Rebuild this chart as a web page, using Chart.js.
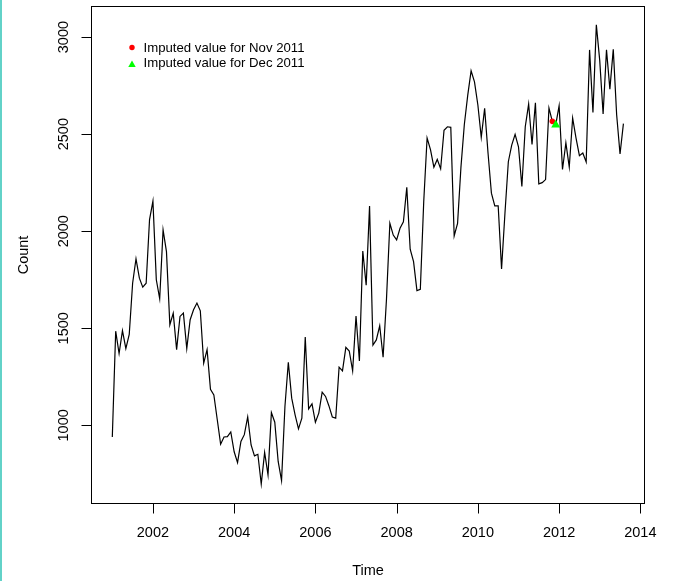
<!DOCTYPE html>
<html>
<head>
<meta charset="utf-8">
<script src="https://cdn.jsdelivr.net/npm/chart.js@4.4.1/dist/chart.umd.min.js"></script>
<style>
  html, body { margin: 0; padding: 0; background: #fff; }
  body { width: 676px; height: 581px; overflow: hidden; position: relative; }
  #edge { position: absolute; left: 0; top: 0; width: 2px; height: 581px; background: #62d2c8; }
  canvas { display: block; }
</style>
</head>
<body>
<div id="edge"></div>
<canvas id="ts-chart" width="676" height="581"></canvas>
<script>
// monthly counts, Jan 2001 .. Aug 2013
const startYear = 2001;
const counts = [
  940, 1485, 1370, 1488, 1395, 1468, 1732, 1858, 1758, 1712, 1732, 2060,
  2155, 1750, 1652, 2007, 1895, 1518, 1578, 1390, 1561, 1578, 1395, 1544,
  1595, 1630, 1590, 1320, 1390, 1186, 1157, 1030, 903, 940, 942, 966,
  864, 808, 917, 952, 1043, 899, 843, 851, 698, 860, 745, 1066,
  1016, 814, 716, 1097, 1325, 1140, 1054, 982, 1037, 1455, 1085, 1111,
  1016, 1063, 1171, 1149, 1100, 1043, 1037, 1300, 1281, 1402, 1383, 1281,
  1563, 1332, 1898, 1722, 2130, 1414, 1440, 1513, 1351, 1650, 2041, 1980,
  1955, 2015, 2049, 2226, 1907, 1843, 1694, 1701, 2150, 2480, 2420, 2330,
  2370, 2322, 2520, 2538, 2535, 1976, 2040, 2330, 2550, 2700, 2826, 2769,
  2650, 2484, 2633, 2403, 2196, 2131, 2131, 1806, 2093, 2358, 2444, 2499,
  2435, 2230, 2538, 2655, 2447, 2662, 2244, 2250, 2266, 2635, 2566, 2548,
  2646, 2318, 2455, 2331, 2583, 2480, 2389, 2403, 2357, 2934, 2612, 3063,
  2880, 2604, 2934, 2732, 2937, 2600, 2398, 2554
];
// months (index into counts) that were imputed
const imputedNovIndex = 130;
const imputedDecIndex = 131;
const legendLabels = ['Imputed value for Nov 2011', 'Imputed value for Dec 2011'];
const xTicks = [2002, 2004, 2006, 2008, 2010, 2012, 2014];
const yTicks = [1000, 1500, 2000, 2500, 3000];

const FONT = '"Liberation Sans", Arial, Helvetica, sans-serif';

const monthTime = i => startYear + i / 12;
const series = counts.map((v, i) => ({ x: monthTime(i), y: v }));
const pointAt = i => [{ x: monthTime(i), y: counts[i] }];

function triangle(ctx, x, y, r) {
  ctx.beginPath();
  let rad = 0;
  for (let k = 0; k < 3; k++) {
    const px = x + Math.sin(rad) * r;
    const py = y - Math.cos(rad) * r;
    if (k === 0) ctx.moveTo(px, py); else ctx.lineTo(px, py);
    rad += Math.PI * 2 / 3;
  }
  ctx.closePath();
  ctx.fill();
}

// R-style frame: box, outward ticks, rotated y labels, titles, legend
const baseGraphics = {
  id: 'baseGraphics',
  afterDraw(chart) {
    const { ctx, chartArea: a, scales: { x, y } } = chart;
    ctx.save();
    ctx.strokeStyle = '#000';
    ctx.lineWidth = 1;
    ctx.strokeRect(Math.round(a.left) - 0.5, Math.round(a.top) - 0.5,
      Math.round(a.right - a.left) + 1, Math.round(a.bottom - a.top) + 1);

    ctx.fillStyle = '#000';
    ctx.font = '14.5px ' + FONT;

    // x axis
    ctx.beginPath();
    const xb = Math.round(a.bottom) + 0.5;
    xTicks.forEach(t => {
      const px = Math.round(x.getPixelForValue(t)) + 0.5;
      ctx.moveTo(px, xb);
      ctx.lineTo(px, xb + 10);
    });
    ctx.stroke();
    ctx.textAlign = 'center';
    ctx.textBaseline = 'middle';
    xTicks.forEach(t => ctx.fillText(String(t), x.getPixelForValue(t), a.bottom + 29.5));

    // y axis
    ctx.beginPath();
    const yl = Math.round(a.left) - 0.5;
    yTicks.forEach(v => {
      const py = Math.round(y.getPixelForValue(v)) + 0.5;
      ctx.moveTo(yl, py);
      ctx.lineTo(yl - 10, py);
    });
    ctx.stroke();
    yTicks.forEach(v => {
      ctx.save();
      ctx.translate(a.left - 28, y.getPixelForValue(v));
      ctx.rotate(-Math.PI / 2);
      ctx.fillText(String(v), 0, 0);
      ctx.restore();
    });

    // axis titles
    ctx.fillText('Time', (a.left + a.right) / 2, a.bottom + 67.5);
    ctx.save();
    ctx.translate(a.left - 68, (a.top + a.bottom) / 2);
    ctx.rotate(-Math.PI / 2);
    ctx.fillText('Count', 0, 0);
    ctx.restore();

    // legend
    ctx.font = '13.2px ' + FONT;
    ctx.textAlign = 'left';
    ctx.fillStyle = '#ff0000';
    ctx.beginPath();
    ctx.arc(132, 47.5, 2.7, 0, Math.PI * 2);
    ctx.fill();
    ctx.fillStyle = '#00ff00';
    triangle(ctx, 132, 64.8, 4.3);
    ctx.fillStyle = '#000';
    ctx.fillText(legendLabels[0], 143.5, 48);
    ctx.fillText(legendLabels[1], 143.5, 63.5);
    ctx.restore();
  }
};

new Chart(document.getElementById('ts-chart'), {
  type: 'line',
  data: {
    datasets: [
      {
        label: legendLabels[1],
        data: pointAt(imputedDecIndex),
        showLine: false,
        pointStyle: 'triangle',
        pointRadius: 5.2,
        pointBackgroundColor: '#00ff00',
        pointBorderWidth: 0,
        order: 0
      },
      {
        label: legendLabels[0],
        data: pointAt(imputedNovIndex),
        showLine: false,
        pointStyle: 'circle',
        pointRadius: 2.8,
        pointBackgroundColor: '#ff0000',
        pointBorderWidth: 0,
        order: 1
      },
      {
        label: 'Count',
        data: series,
        borderColor: '#000',
        borderWidth: 1.2,
        pointRadius: 0,
        tension: 0,
        fill: false,
        order: 2
      }
    ]
  },
  options: {
    responsive: false,
    animation: false,
    devicePixelRatio: 1,
    layout: { padding: { left: 92, top: 7, right: 32, bottom: 78 } },
    scales: {
      x: { type: 'linear', min: 2000.5, max: 2014.09, display: false },
      y: { type: 'linear', min: 600, max: 3155, display: false }
    },
    plugins: {
      legend: { display: false },
      tooltip: { enabled: false }
    }
  },
  plugins: [baseGraphics]
});
</script>
</body>
</html>
